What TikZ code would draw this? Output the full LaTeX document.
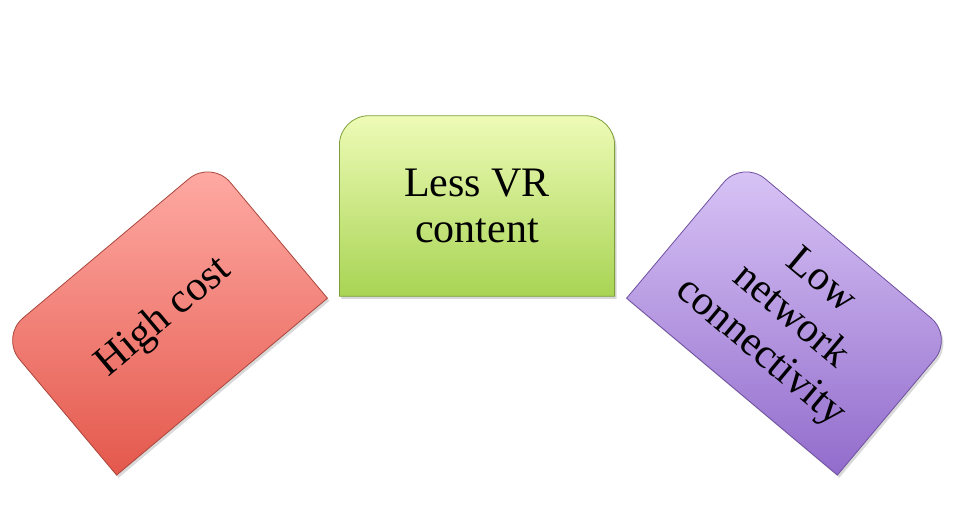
\documentclass[tikz,border=0pt]{standalone}
\usepackage{fontspec}
\setmainfont{Liberation Serif}
\usepackage{tikz}
\usetikzlibrary{shadows,backgrounds}

\definecolor{redtop}{RGB}{255,172,166}
\definecolor{redbot}{RGB}{228,88,76}
\definecolor{rededge}{RGB}{170,70,60}
\definecolor{greentop}{RGB}{238,251,182}
\definecolor{greenbot}{RGB}{168,212,84}
\definecolor{greenedge}{RGB}{125,160,60}
\definecolor{purptop}{RGB}{218,198,247}
\definecolor{purpbot}{RGB}{146,108,204}
\definecolor{purpedge}{RGB}{110,80,160}

\begin{document}
\begin{tikzpicture}[x=0.75pt,y=0.75pt,
  card/.style={minimum width=206pt, minimum height=135pt, inner sep=0pt,
    align=center, font=\fontsize{31.5}{35}\selectfont},
  tab/.style={line width=0.6pt,
    drop shadow={opacity=0.3, shadow xshift=1.5pt, shadow yshift=-2pt}}]
\useasboundingbox (0,0) rectangle (954,525);

\node[card, rotate=40] (cost) at (164,207.5) {High cost};
\node[card] (content) at (477,319) {Less VR\\content};
\node[card, rotate=-40] (network) at (790,207.5) {Low\\network\\connectivity};

\begin{pgfonlayer}{background}
\path[tab, draw=rededge, top color=redtop, bottom color=redbot]
  (cost.south west) [rounded corners=22pt] -- (cost.north west) -- (cost.north east)
  [sharp corners] -- (cost.south east) -- cycle;
\path[tab, draw=greenedge, top color=greentop, bottom color=greenbot]
  (content.south west) [rounded corners=22pt] -- (content.north west) -- (content.north east)
  [sharp corners] -- (content.south east) -- cycle;
\path[tab, draw=purpedge, top color=purptop, bottom color=purpbot]
  (network.south west) [rounded corners=22pt] -- (network.north west) -- (network.north east)
  [sharp corners] -- (network.south east) -- cycle;
\end{pgfonlayer}
\end{tikzpicture}
\end{document}
